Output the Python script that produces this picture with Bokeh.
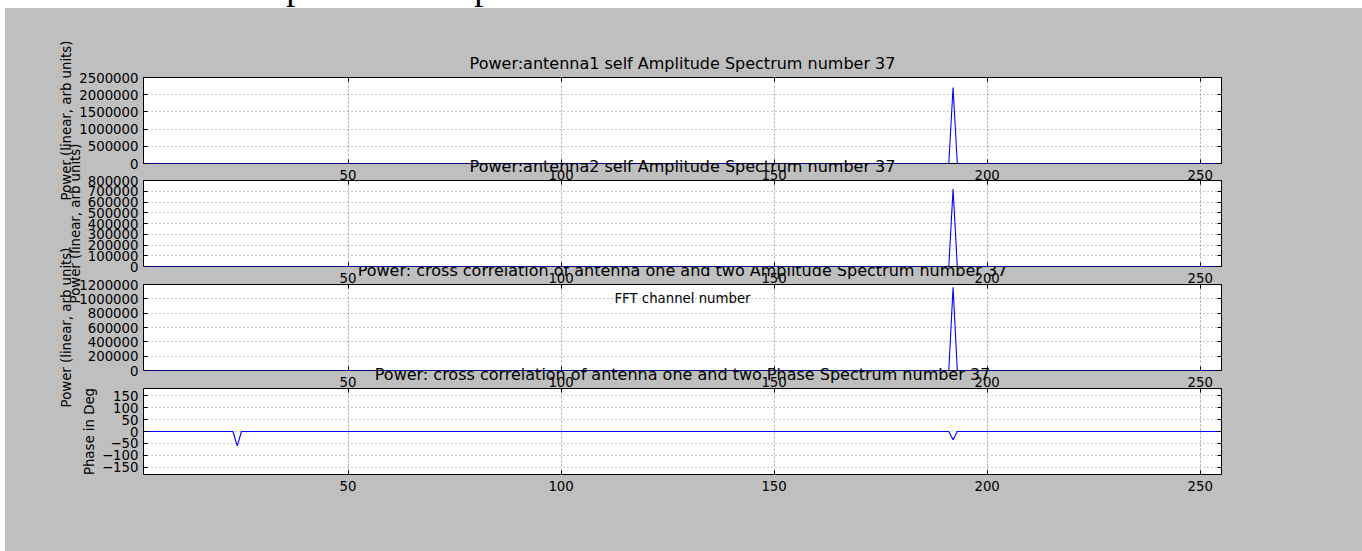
from bokeh.plotting import figure
from bokeh.models import Range1d, FixedTicker, LinearAxis, BasicTickFormatter, Div
from bokeh.layouts import column
from bokeh.embed import file_html
from bokeh.resources import INLINE

# ---------------- data ----------------
page_heading = "IV. Correlated spectrum and phase correlation"

x_start, x_end = 2, 255
x_ticks = [50, 100, 150, 200, 250]
x_label = "FFT channel number"

titles = [
    "Power:antenna1 self Amplitude Spectrum number 37",
    "Power:antenna2 self Amplitude Spectrum number 37",
    "Power: cross correlation of antenna one and two Amplitude Spectrum number 37",
    "Power: cross correlation of antenna one and two Phase Spectrum number 37",
]
y_labels = [
    "Power (linear, arb units)",
    "Power (linear, arb units)",
    "Power (linear, arb units)",
    "Phase in Deg",
]

ant1_channels = [2, 191, 192, 193, 255]
ant1_power = [0, 0, 2210000, 0, 0]

ant2_channels = [2, 191, 192, 193, 255]
ant2_power = [0, 0, 720000, 0, 0]

cross_channels = [2, 191, 192, 193, 255]
cross_power = [0, 0, 1160000, 0, 0]

phase_channels = [2, 23, 24, 25, 191, 192, 193, 255]
phase_deg = [0, 0, -60, 0, 0, -35, 0, 0]

y1_range = (0, 2500000)
y1_ticks = [0, 500000, 1000000, 1500000, 2000000, 2500000]
y2_range = (0, 800000)
y2_ticks = [0, 100000, 200000, 300000, 400000, 500000, 600000, 700000, 800000]
y3_range = (0, 1200000)
y3_ticks = [0, 200000, 400000, 600000, 800000, 1000000, 1200000]
y4_range = (-180, 180)
y4_ticks = [-150, -100, -50, 0, 50, 100, 150]
y4_tick_labels = ["\u2212150", "\u2212100", "\u221250", "0", "50", "100", "150"]

# ---------------- styling ----------------
FONT = "DejaVu Sans"
TICK_SIZE = "13.3px"
TITLE_SIZE = "16px"
GRAY_BG = "#bfbfbf"

x_range = Range1d(x_start, x_end)


def make_panel(title, ylabel, xs, ys, yr, yticks, ylabels_over=None,
               top_border=70, bottom_border=70, margin_top=0, xlabel=None, z=None):
    p = figure(frame_width=1078, frame_height=86,
               min_border_left=138, min_border_right=141,
               min_border_top=top_border, min_border_bottom=bottom_border,
               x_range=x_range, y_range=Range1d(*yr),
               output_backend="svg", toolbar_location=None,
               x_axis_location=None, y_axis_location=None,
               margin=(margin_top, 0, 0, 0),
               styles={"z-index": str(z)} if z is not None else {})
    p.border_fill_alpha = 0
    p.border_fill_color = None
    p.background_fill_color = "white"
    p.outline_line_color = "black"
    p.outline_line_width = 1

    xb = LinearAxis(ticker=FixedTicker(ticks=x_ticks))
    yl = LinearAxis(ticker=FixedTicker(ticks=yticks),
                    formatter=BasicTickFormatter(use_scientific=False))
    # mirror axes carrying only the inward tick marks on the top and right
    xt = LinearAxis(ticker=FixedTicker(ticks=x_ticks))
    yrgt = LinearAxis(ticker=FixedTicker(ticks=yticks))
    for ax in (xb, yl, xt, yrgt):
        ax.major_tick_in = 4
        ax.major_tick_out = 0
        ax.minor_tick_line_color = None
        ax.major_tick_line_color = "black"
        ax.axis_line_color = None
        ax.major_label_text_font = FONT
        ax.major_label_text_font_size = TICK_SIZE
        ax.major_label_text_color = "black"
        ax.axis_label_text_font = FONT
        ax.axis_label_text_font_size = TICK_SIZE
        ax.axis_label_text_font_style = "normal"
        ax.axis_label_text_color = "black"
    for ax in (xt, yrgt):
        ax.major_label_text_font_size = "0px"
        ax.major_label_text_color = None
        ax.major_label_standoff = 0
    xb.major_label_standoff = 6
    yl.major_label_standoff = 5
    yl.axis_label = ylabel
    yl.axis_label_standoff = 2
    if ylabels_over:
        yl.major_label_overrides = ylabels_over
    if xlabel:
        xb.axis_label = xlabel
        xb.axis_label_standoff = 5

    p.add_layout(xb, "below")
    p.add_layout(yl, "left")
    p.add_layout(xt, "above")
    p.add_layout(yrgt, "right")

    p.xgrid.ticker = FixedTicker(ticks=x_ticks)
    p.ygrid.ticker = FixedTicker(ticks=yticks)
    p.xgrid.grid_line_color = "black"
    p.xgrid.grid_line_alpha = 0.35
    p.xgrid.grid_line_dash = "2 2"
    p.ygrid.grid_line_color = "black"
    p.ygrid.grid_line_alpha = 0.45
    p.ygrid.grid_line_dash = "1 3"

    p.title.text = title
    p.title.align = "center"
    p.title.text_font = FONT
    p.title.text_font_size = TITLE_SIZE
    p.title.text_font_style = "normal"
    p.title.text_color = "black"
    p.title.standoff = 9

    p.line(xs, ys, line_color="#0000ff", line_width=1.1)
    return p


p1 = make_panel(titles[0], y_labels[0], ant1_channels, ant1_power, y1_range, y1_ticks,
                top_border=69, bottom_border=70, margin_top=0)
p2 = make_panel(titles[1], y_labels[1], ant2_channels, ant2_power, y2_range, y2_ticks,
                top_border=70, bottom_border=70, margin_top=-123, xlabel=x_label, z=2)
p3 = make_panel(titles[2], y_labels[2], cross_channels, cross_power, y3_range, y3_ticks,
                top_border=70, bottom_border=70, margin_top=-122)
p4 = make_panel(titles[3], y_labels[3], phase_channels, phase_deg, y4_range, y4_ticks,
                ylabels_over={t: s for t, s in zip(y4_ticks, y4_tick_labels)},
                top_border=70, bottom_border=77, margin_top=-122)

heading = Div(
    text=('<div style="font-family: \'Liberation Serif\'; font-size: 36px; line-height: 36px; '
          'white-space: nowrap; padding-top: 11px; padding-left: 55px; color: black;">'
          + page_heading + '</div>'),
    width=1357, height=50, margin=(-50, 0, 0, 0),
    styles={"overflow": "hidden"},
)

layout = column(heading, p1, p2, p3, p4, spacing=0, margin=(8, 0, 0, 5),
                styles={"background-color": GRAY_BG})

open("out.html", "w").write(file_html(layout, INLINE))
